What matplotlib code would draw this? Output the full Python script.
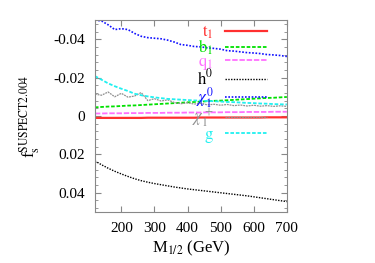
import matplotlib
matplotlib.use("Agg")
import matplotlib.pyplot as plt
from matplotlib.ticker import MultipleLocator

plt.rcParams['font.family'] = ['Liberation Serif', 'DejaVu Serif']
plt.rcParams['mathtext.fontset'] = 'stix'

# M_1/2 grid (GeV)
m_half = [120, 140, 160, 180, 200, 220, 240, 260, 280, 300,
          320, 340, 360, 380, 400, 420, 440, 460, 480, 500,
          520, 540, 560, 580, 600, 620, 640, 660, 680, 700]

t1 = [0.0010, 0.0010, 0.0010, 0.0010, 0.0010, 0.0010, 0.0010, 0.0010, 0.0009, 0.0009,
      0.0009, 0.0009, 0.0009, 0.0009, 0.0009, 0.0009, 0.0008, 0.0008, 0.0008, 0.0008,
      0.0008, 0.0008, 0.0008, 0.0008, 0.0008, 0.0008, 0.0007, 0.0007, 0.0007, 0.0007]
b1 = [-0.0045, -0.0047, -0.0049, -0.0050, -0.0052, -0.0054, -0.0055, -0.0057, -0.0059, -0.0061,
      -0.0063, -0.0065, -0.0067, -0.0069, -0.0071, -0.0073, -0.0075, -0.0077, -0.0079, -0.0080,
      -0.0082, -0.0084, -0.0086, -0.0088, -0.0090, -0.0092, -0.0094, -0.0095, -0.0097, -0.0099]
q1 = [-0.0013, -0.0013, -0.0014, -0.0014, -0.0014, -0.0015, -0.0015, -0.0015, -0.0016, -0.0016,
      -0.0016, -0.0017, -0.0017, -0.0017, -0.0018, -0.0018, -0.0018, -0.0019, -0.0019, -0.0019,
      -0.0020, -0.0020, -0.0020, -0.0021, -0.0021, -0.0021, -0.0021, -0.0022, -0.0022, -0.0022]
h0 = [0.0234, 0.0254, 0.0272, 0.0288, 0.0302, 0.0315, 0.0327, 0.0337, 0.0345, 0.0352,
      0.0358, 0.0364, 0.0370, 0.0375, 0.0380, 0.0384, 0.0388, 0.0392, 0.0396, 0.0400,
      0.0404, 0.0408, 0.0412, 0.0416, 0.0421, 0.0426, 0.0431, 0.0436, 0.0441, 0.0446]
chi0 = [-0.0500, -0.0495, -0.0475, -0.0450, -0.0455, -0.0450, -0.0430, -0.0415, -0.0408, -0.0405,
        -0.0402, -0.0395, -0.0385, -0.0372, -0.0368, -0.0362, -0.0360, -0.0355, -0.0352, -0.0348,
        -0.0340, -0.0338, -0.0334, -0.0330, -0.0328, -0.0325, -0.0320, -0.0318, -0.0315, -0.0310]
chip = [-0.0114, -0.0108, -0.0125, -0.0100, -0.0118, -0.0098, -0.0104, -0.0122, -0.0080, -0.0090,
        -0.0078, -0.0084, -0.0070, -0.0064, -0.0069, -0.0062, -0.0066, -0.0058, -0.0061, -0.0056,
        -0.0060, -0.0054, -0.0057, -0.0052, -0.0056, -0.0051, -0.0054, -0.0050, -0.0053, -0.0050]
gluino = [-0.0208, -0.0189, -0.0170, -0.0155, -0.0142, -0.0130, -0.0116, -0.0108, -0.0102, -0.0097,
          -0.0093, -0.0089, -0.0087, -0.0085, -0.0083, -0.0081, -0.0080, -0.0078, -0.0077, -0.0075,
          -0.0073, -0.0072, -0.0070, -0.0068, -0.0067, -0.0065, -0.0064, -0.0062, -0.0061, -0.0060]

series = [
    (t1, r'$\mathrm{t}_1$', '#ff3030', '-', 1.6),
    (b1, r'$\mathrm{b}_1$', '#00e000', (0, (2, 1)), 1.3),
    (q1, r'$\mathrm{q}_1$', '#ff70ff', (0, (3, 1)), 1.3),
    (h0, r'$\mathrm{h}^0$', 'black', (0, (1, 1)), 1.0),
    (chi0, r'$\chi_1^0$', '#1010ff', (0, (1, 1)), 1.2),
    (chip, r'$\chi_1^+$', '#909090', (0, (1.5, 0.7)), 0.9),
    (gluino, r'$\mathrm{g}$', '#20f0f0', (0, (2, 1)), 1.3),
]

fig = plt.figure(figsize=(3.75, 2.63), dpi=100)
ax = fig.add_axes([0.253, 0.194, 0.512, 0.730])

for vals, lab, col, ls, lw in series:
    ax.plot(m_half, vals, color=col, linestyle=ls, linewidth=lw, label=lab)

ax.set_xlim(120, 700)
ax.set_ylim(0.05, -0.05)
ax.yaxis.set_minor_locator(MultipleLocator(0.004))
ax.set_xticks([200, 300, 400, 500, 600, 700])
ax.set_yticks([-0.04, -0.02, 0, 0.02, 0.04])
ax.set_yticklabels(['-0.04', '-0.02', '0', '0.02', '0.04'])

for sp in ax.spines.values():
    sp.set_color('#888888')
ax.tick_params(which='both', direction='in', top=True, right=True,
               color='#888888', labelsize=11)
ax.tick_params(which='major', length=4, pad=7)
ax.tick_params(which='minor', length=2)

ax.set_xlabel(r'M$_{1/2}$ (GeV)', fontsize=12, labelpad=3)
ax.set_ylabel(r'f$_\mathrm{s}^{\mathrm{SUSPECT2.004}}$', fontsize=12, labelpad=8)

leg = ax.legend(loc='upper right', bbox_to_anchor=(0.896, 0.98), frameon=False,
                markerfirst=False, handlelength=2.5, handletextpad=0.7,
                borderpad=0, borderaxespad=0,
                labelspacing=-0.2, fontsize=12, labelcolor='linecolor')

fig.savefig('out.png', dpi=100)
